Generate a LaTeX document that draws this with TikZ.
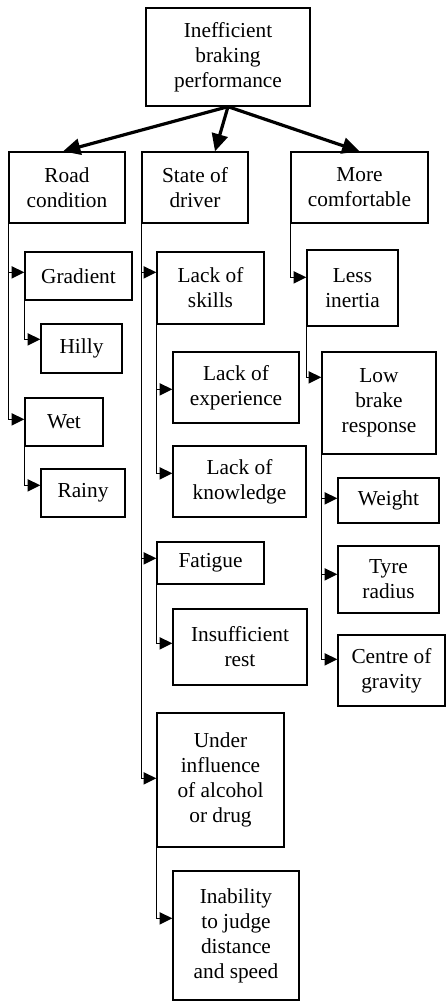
\documentclass[tikz,border=0pt]{standalone}
\usepackage{fontspec}
\setmainfont{Liberation Serif}
\usetikzlibrary{arrows.meta}
\tikzset{
  box/.style={draw, line width=1pt, inner sep=0pt, align=center,
    font=\fontsize{16pt}{18.75pt}\selectfont},
  link/.style={line width=1.2pt, -{Triangle[length=9.5pt,width=9pt]}},
  mainlink/.style={line width=2.4pt, -{Triangle[length=13pt,width=12pt]}},
}
% \bx{name}{x1}{y1}{x2}{y2}{text}: a box given by its corners in px
\newcommand\bx[6]{%
  \node[box, minimum width={(#4-#2)*0.75pt}, minimum height={(#5-#3)*0.75pt}]
    (#1) at ({(#2+#4)/2},{(#3+#5)/2}) {#6};}
\begin{document}
\begin{tikzpicture}[x=0.75pt,y=-0.75pt]
\useasboundingbox (0,0) rectangle (446,1001);

\bx{top}{146}{8}{310}{106}{Inefficient\\braking\\performance}
\bx{road}{9}{152}{125}{223}{Road\\condition}
\bx{state}{142}{152}{248}{223}{State of\\driver}
\bx{more}{291}{152}{428}{223}{More\\comfortable}

\bx{gradient}{25}{252}{132}{300}{Gradient}
\bx{hilly}{41}{324}{122}{373}{Hilly}
\bx{wet}{25}{398}{103}{446}{Wet}
\bx{rainy}{41}{469}{125}{517}{Rainy}

\bx{skills}{157}{252}{264}{324}{Lack of\\skills}
\bx{exper}{173}{352}{299}{423}{Lack of\\experience}
\bx{knowl}{173}{446}{306}{517}{Lack of\\knowledge}
\bx{fatigue}{157}{542}{264}{584}{Fatigue}
\bx{rest}{173}{609}{307}{685}{Insufficient\\rest}
\bx{alcohol}{157}{713}{284}{847}{Under\\influence\\of alcohol\\or drug}
\bx{inability}{173}{871}{299}{1000}{Inability\\to judge\\distance\\and speed}

\bx{inertia}{307}{250}{398}{326}{Less\\inertia}
\bx{lowbrake}{322}{352}{436}{454}{Low\\brake\\response}
\bx{weight}{338}{478}{439}{523}{Weight}
\bx{tyre}{338}{546}{439}{613}{Tyre\\radius}
\bx{cog}{338}{635}{445}{706}{Centre of\\gravity}

% main branches
\draw[mainlink] (top.south) -- ([xshift=-3pt]road.north);
\draw[mainlink] (top.south) -- ([xshift=15pt]state.north);
\draw[mainlink] (top.south) -- (more.north);

% road condition
\draw[link] (road.south west) |- ([yshift=-15.75pt]gradient.north west);
\draw[link] (road.south west) |- ([yshift=-16.5pt]wet.north west);
\draw[link] (gradient.south west) |- ([yshift=-12pt]hilly.north west);
\draw[link] (wet.south west) |- ([yshift=-12.75pt]rainy.north west);

% state of driver
\draw[link] (state.south west) |- ([yshift=-15.75pt]skills.north west);
\draw[link] (state.south west) |- ([yshift=-12.75pt]fatigue.north west);
\draw[link] (state.south west) |- ([yshift=-49.5pt]alcohol.north west);
\draw[link] (skills.south west) |- ([yshift=-28.5pt]exper.north west);
\draw[link] (skills.south west) |- ([yshift=-21pt]knowl.north west);
\draw[link] (fatigue.south west) |- ([yshift=-26.25pt]rest.north west);
\draw[link] (alcohol.south west) |- ([yshift=-36pt]inability.north west);

% more comfortable
\draw[link] (more.south west) |- ([yshift=-21pt]inertia.north west);
\draw[link] (inertia.south west) |- ([yshift=-19.5pt]lowbrake.north west);
\draw[link] (lowbrake.south west) |- ([yshift=-15.75pt]weight.north west);
\draw[link] (lowbrake.south west) |- ([yshift=-21.75pt]tyre.north west);
\draw[link] (lowbrake.south west) |- ([yshift=-18.75pt]cog.north west);
\end{tikzpicture}
\end{document}
